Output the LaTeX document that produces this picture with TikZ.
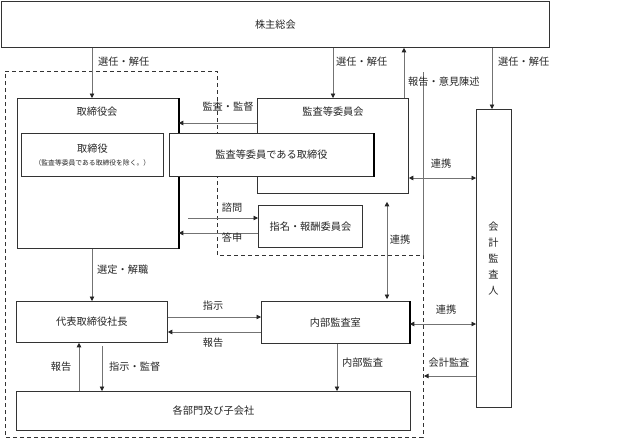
\documentclass[tikz,border=0pt]{standalone}
\usepackage{fontspec}
\newfontfamily\jpfont{Noto Sans CJK JP}
\usetikzlibrary{arrows.meta}
\begin{document}
\begin{tikzpicture}[x=1pt,y=-1pt,
  txt/.style={font=\jpfont\fontsize{10.2}{12}\selectfont, text=black!85},
  box/.style={txt, draw=black!80, line width=0.8pt, fill=white, inner sep=0pt, anchor=north west},
  lbl/.style={txt, inner sep=0pt},
  arr/.style={draw=black!55, line width=0.7pt, -{Triangle[length=4.5pt,width=4.5pt,color=black!85]}},
  darr/.style={draw=black!55, line width=0.7pt, {Triangle[length=4.5pt,width=4.5pt,color=black!85]}-{Triangle[length=4.5pt,width=4.5pt,color=black!85]}},
  plain/.style={draw=black!55, line width=0.7pt},
  dashbox/.style={draw=black!80, line width=0.8pt, dash pattern=on 4pt off 3pt},
  thickedge/.style={draw=black, line width=2pt}]
\useasboundingbox (0,0) rectangle (621,439);

% dashed region
\draw[dashbox] (5,71) -- (217,71) -- (217,255) -- (423,255) -- (423,437) -- (5,437) -- cycle;
\coordinate (s1) at (423,72);
\coordinate (s2) at (423,255);
\draw[plain] (s1) -- (s2);

% boxes
\node[box, minimum width=548pt, minimum height=46pt] (top) at (1,1) {株主総会};
\node[box, minimum width=35pt, minimum height=298pt] (acct) at (476,109) {};
\node[lbl, align=center, font=\jpfont\fontsize{10.2}{16}\selectfont] (acctT) at (493.5,259) {会\\計\\監\\査\\人};

\node[box, minimum width=161pt, minimum height=150pt] (board) at (17,98) {};
\draw[thickedge] (board.north east) -- (board.south east);
\node[lbl] (boardT) at (97,112) {取締役会};
\node[box, minimum width=142pt, minimum height=43pt, align=center] (dirs) at (21,133)
  {取締役\\[1pt]{\fontsize{6.8}{8}\selectfont （監査等委員である取締役を除く。）}};

\node[box, minimum width=151pt, minimum height=95pt] (aud) at (257,98) {};
\node[lbl] (audT) at (333,112) {監査等委員会};
\node[box, minimum width=204pt, minimum height=43pt] (auddir) at (169,133) {監査等委員である取締役};
\draw[thickedge] (auddir.north east) -- (auddir.south east);

\node[box, minimum width=104pt, minimum height=42pt] (nom) at (258,205) {指名・報酬委員会};

\node[box, minimum width=151pt, minimum height=41pt] (pres) at (16,301) {代表取締役社長};
\node[box, minimum width=148pt, minimum height=42pt] (ia) at (261,301) {内部監査室};
\draw[thickedge] (ia.north east) -- (ia.south east);
\node[box, minimum width=394pt, minimum height=39pt] (dept) at (16,391) {各部門及び子会社};

% helper coordinates
\coordinate (x92) at (92,0);
\coordinate (x333) at (333,0);
\coordinate (x404) at (404,0);
\coordinate (x492) at (492,0);
\coordinate (x387) at (387,0);
\coordinate (x337) at (337,0);
\coordinate (x79) at (79,0);
\coordinate (x102) at (102,0);
\coordinate (y123) at (0,123);
\coordinate (y218) at (0,218);
\coordinate (y233) at (0,233);
\coordinate (y178) at (0,178);
\coordinate (y317) at (0,317);
\coordinate (y332) at (0,332);
\coordinate (y324) at (0,324);
\coordinate (y376) at (0,376);
\coordinate (c188) at (188,218);
\coordinate (c424) at (424,376);

% connectors
\draw[arr] (top.south -| x92) -- (board.north -| x92);
\draw[arr] (top.south -| x333) -- (aud.north -| x333);
\draw[arr] (aud.north -| x404) -- (top.south -| x404);
\draw[arr] (top.south -| x492) -- (acct.north -| x492);
\draw[arr] (aud.west |- y123) -- (board.east |- y123);
\draw[arr] (c188) -- (nom.west |- y218);
\draw[arr] (nom.west |- y233) -- (board.east |- y233);
\draw[darr] (aud.east |- y178) -- (acct.west |- y178);
\draw[darr, shorten <=8pt, shorten >=2pt] (aud.south -| x387) -- (ia.north -| x387);
\draw[arr] (board.south -| x92) -- (pres.north -| x92);
\draw[arr] (pres.east |- y317) -- (ia.west |- y317);
\draw[arr] (ia.west |- y332) -- (pres.east |- y332);
\draw[darr] (ia.east |- y324) -- (acct.west |- y324);
\draw[arr] (acct.west |- y376) -- (c424);
\draw[arr] (ia.south -| x337) -- (dept.north -| x337);
\draw[arr] (dept.north -| x79) -- (pres.south -| x79);
\draw[arr, shorten <=3pt] (pres.south -| x102) -- (dept.north -| x102);

% labels
\node[lbl, anchor=west] (l1) at (98,62) {選任・解任};
\node[lbl, anchor=west] (l2) at (336,62) {選任・解任};
\node[lbl, anchor=west] (l3) at (498,62) {選任・解任};
\node[lbl, anchor=west] (l4) at (408,82) {報告・意見陳述};
\node[lbl] (l5) at (228,107) {監査・監督};
\node[lbl] (l6) at (232,208) {諮問};
\node[lbl] (l7) at (232,238) {答申};
\node[lbl] (l8) at (441,164) {連携};
\node[lbl] (l9) at (400,240) {連携};
\node[lbl, anchor=west] (l10) at (97,270) {選定・解職};
\node[lbl] (l11) at (213,306) {指示};
\node[lbl] (l12) at (213,343) {報告};
\node[lbl] (l13) at (446,310) {連携};
\node[lbl] (l14) at (449,363) {会計監査};
\node[lbl, anchor=west] (l15) at (342,363) {内部監査};
\node[lbl] (l16) at (61,367) {報告};
\node[lbl, anchor=west] (l17) at (109,367) {指示・監督};
\end{tikzpicture}
\end{document}
